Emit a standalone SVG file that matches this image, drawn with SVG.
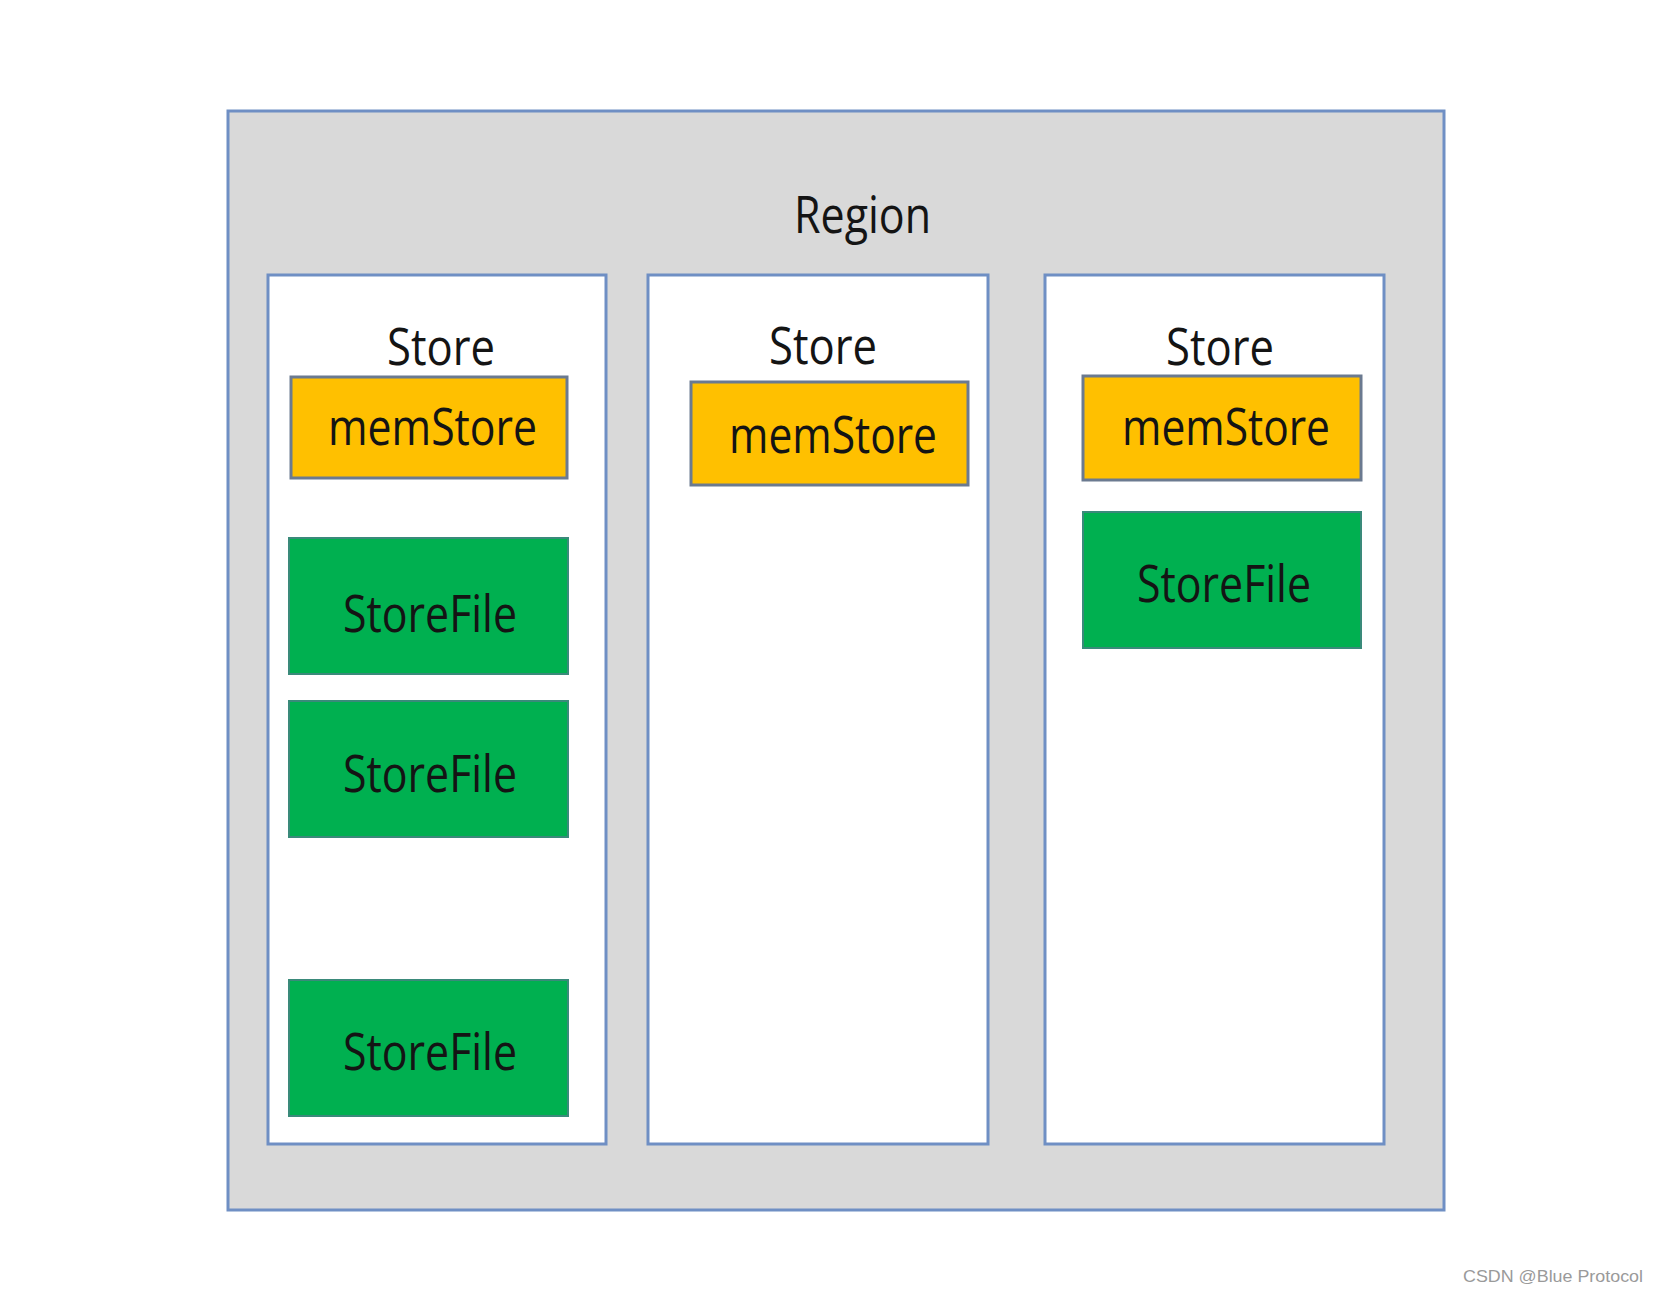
<svg xmlns="http://www.w3.org/2000/svg" width="1659" height="1292" viewBox="0 0 1659 1292">
<style>
.region{fill:#d9d9d9;stroke:#6f8fc4;stroke-width:3}
.store{fill:#ffffff;stroke:#6f8fc4;stroke-width:3}
.mem{fill:#ffc000;stroke:#6b7a90;stroke-width:3}
.file{fill:#00b050;stroke:#3a8a7a;stroke-width:2}
.t{font-family:"Open Sans","Noto Sans","Liberation Sans",sans-serif;font-size:52px;fill:#141414;text-anchor:start}
.wm{font-family:"Liberation Sans",Arial,sans-serif;font-size:17px;fill:#9a9a9a}
</style>
<rect width="1659" height="1292" fill="#ffffff"/>
<g id="region">
<rect class="region" x="228" y="111" width="1216" height="1099"/>
<text class="t" x="794" y="233" textLength="137" lengthAdjust="spacingAndGlyphs">Region</text>
</g>
<g id="store1">
<rect class="store" x="268" y="275" width="338" height="869"/>
<text class="t" x="387" y="365" textLength="108" lengthAdjust="spacingAndGlyphs">Store</text>
</g>
<g id="memstore1">
<rect class="mem" x="291" y="377" width="276" height="101"/>
<text class="t" x="328" y="445" textLength="209" lengthAdjust="spacingAndGlyphs">memStore</text>
</g>
<g id="storefile1a">
<rect class="file" x="289" y="538" width="279" height="136"/>
<text class="t" x="343" y="632" textLength="174" lengthAdjust="spacingAndGlyphs">StoreFile</text>
</g>
<g id="storefile1b">
<rect class="file" x="289" y="701" width="279" height="136"/>
<text class="t" x="343" y="792" textLength="174" lengthAdjust="spacingAndGlyphs">StoreFile</text>
</g>
<g id="storefile1c">
<rect class="file" x="289" y="980" width="279" height="136"/>
<text class="t" x="343" y="1070" textLength="174" lengthAdjust="spacingAndGlyphs">StoreFile</text>
</g>
<g id="store2">
<rect class="store" x="648" y="275" width="340" height="869"/>
<text class="t" x="769" y="364" textLength="108" lengthAdjust="spacingAndGlyphs">Store</text>
</g>
<g id="memstore2">
<rect class="mem" x="691" y="382" width="277" height="103"/>
<text class="t" x="729" y="453" textLength="208" lengthAdjust="spacingAndGlyphs">memStore</text>
</g>
<g id="store3">
<rect class="store" x="1045" y="275" width="339" height="869"/>
<text class="t" x="1166" y="365" textLength="108" lengthAdjust="spacingAndGlyphs">Store</text>
</g>
<g id="memstore3">
<rect class="mem" x="1083" y="376" width="278" height="104"/>
<text class="t" x="1122" y="445" textLength="208" lengthAdjust="spacingAndGlyphs">memStore</text>
</g>
<g id="storefile3">
<rect class="file" x="1083" y="512" width="278" height="136"/>
<text class="t" x="1137" y="602" textLength="174" lengthAdjust="spacingAndGlyphs">StoreFile</text>
</g>
<g id="connectors"></g>
<text class="wm" x="1463" y="1282" textLength="180" lengthAdjust="spacingAndGlyphs">CSDN @Blue Protocol</text>
</svg>
